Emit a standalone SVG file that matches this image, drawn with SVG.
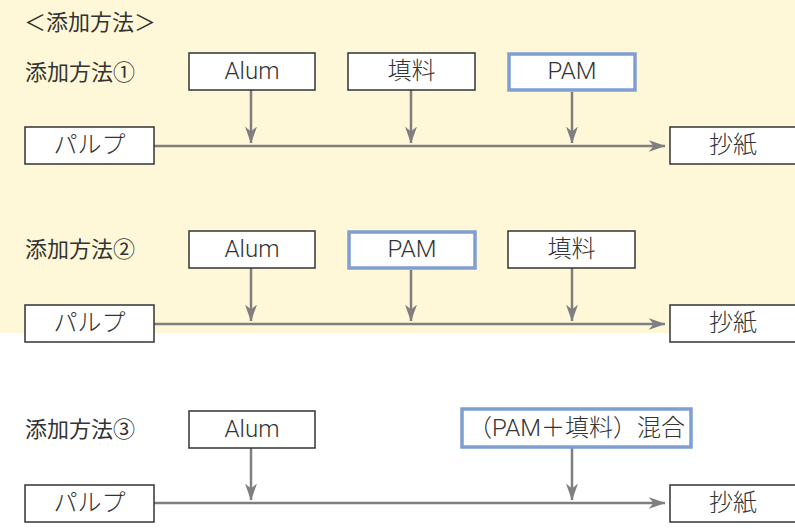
<svg xmlns="http://www.w3.org/2000/svg" width="795" height="529" viewBox="0 0 795 529">
  <defs>
    <marker id="arr" viewBox="0 0 17 12" refX="16.5" refY="6" markerWidth="17" markerHeight="12" markerUnits="userSpaceOnUse" orient="auto">
      <path d="M0,0 L17,6 L0,12 L5,6 Z" fill="#7f7f7f"/>
    </marker>
    <style>
      .box { fill: #ffffff; stroke: #333333; stroke-width: 1.5; }
      .hl { fill: #ffffff; stroke: #7f9fd2; stroke-width: 3.5; }
      .t { font-family: Roboto, "Noto Sans CJK JP", sans-serif; font-size: 24px; font-weight: 300; fill: #333333; text-anchor: middle; dominant-baseline: central; }
      .lbl { font-family: "Noto Sans CJK JP", sans-serif; font-size: 22px; font-weight: 400; fill: #333333; }
      .ln { stroke: #7f7f7f; stroke-width: 2.5; fill: none; marker-end: url(#arr); }
    </style>
  </defs>

  <rect x="0" y="0" width="795" height="333" fill="#fff8d8"/>

  <text class="lbl" x="24" y="30">＜添加方法＞</text>
  <text class="lbl" x="25" y="80">添加方法①</text>
  <text class="lbl" x="25" y="257">添加方法②</text>
  <text class="lbl" x="25" y="437">添加方法③</text>

  <g id="connectors">
    <line class="ln" x1="154" y1="146" x2="665" y2="146"/>
    <line class="ln" x1="251" y1="90" x2="251" y2="143"/>
    <line class="ln" x1="411" y1="90" x2="411" y2="143"/>
    <line class="ln" x1="572" y1="92" x2="572" y2="143"/>

    <line class="ln" x1="154" y1="324" x2="665" y2="324"/>
    <line class="ln" x1="251" y1="268" x2="251" y2="321"/>
    <line class="ln" x1="411" y1="270" x2="411" y2="321"/>
    <line class="ln" x1="572" y1="268" x2="572" y2="321"/>

    <line class="ln" x1="154" y1="503" x2="665" y2="503"/>
    <line class="ln" x1="251" y1="448" x2="251" y2="500"/>
    <line class="ln" x1="572" y1="448" x2="572" y2="500"/>
  </g>

  <!-- method 1 -->
  <g id="m1-alum"><rect class="box" x="189" y="53" width="126" height="37"/><text class="t" x="252" y="71">Alum</text></g>
  <g id="m1-filler"><rect class="box" x="348" y="53" width="127" height="37"/><text class="t" x="411.5" y="71">填料</text></g>
  <g id="m1-pam"><rect class="hl" x="509" y="54" width="126" height="36"/><text class="t" x="572" y="71">PAM</text></g>
  <g id="m1-pulp"><rect class="box" x="25" y="127" width="129" height="37"/><text class="t" x="89.5" y="145">パルプ</text></g>
  <g id="m1-paper"><rect class="box" x="670" y="127" width="130" height="37"/><text class="t" x="733" y="145">抄紙</text></g>

  <!-- method 2 -->
  <g id="m2-alum"><rect class="box" x="189" y="231" width="126" height="37"/><text class="t" x="252" y="249">Alum</text></g>
  <g id="m2-pam"><rect class="hl" x="349" y="232" width="126" height="36"/><text class="t" x="412" y="249">PAM</text></g>
  <g id="m2-filler"><rect class="box" x="508" y="231" width="127" height="37"/><text class="t" x="571.5" y="249">填料</text></g>
  <g id="m2-pulp"><rect class="box" x="25" y="305" width="129" height="37"/><text class="t" x="89.5" y="323">パルプ</text></g>
  <g id="m2-paper"><rect class="box" x="670" y="305" width="130" height="37"/><text class="t" x="733" y="323">抄紙</text></g>

  <!-- method 3 -->
  <g id="m3-alum"><rect class="box" x="189" y="411" width="126" height="37"/><text class="t" x="252" y="429">Alum</text></g>
  <g id="m3-mix"><rect class="hl" x="462" y="409" width="229" height="38"/><text class="t" x="576.5" y="427.5">（PAM＋填料）混合</text></g>
  <g id="m3-pulp"><rect class="box" x="25" y="485" width="129" height="37"/><text class="t" x="89.5" y="503">パルプ</text></g>
  <g id="m3-paper"><rect class="box" x="670" y="485" width="130" height="37"/><text class="t" x="733" y="503">抄紙</text></g>
</svg>
